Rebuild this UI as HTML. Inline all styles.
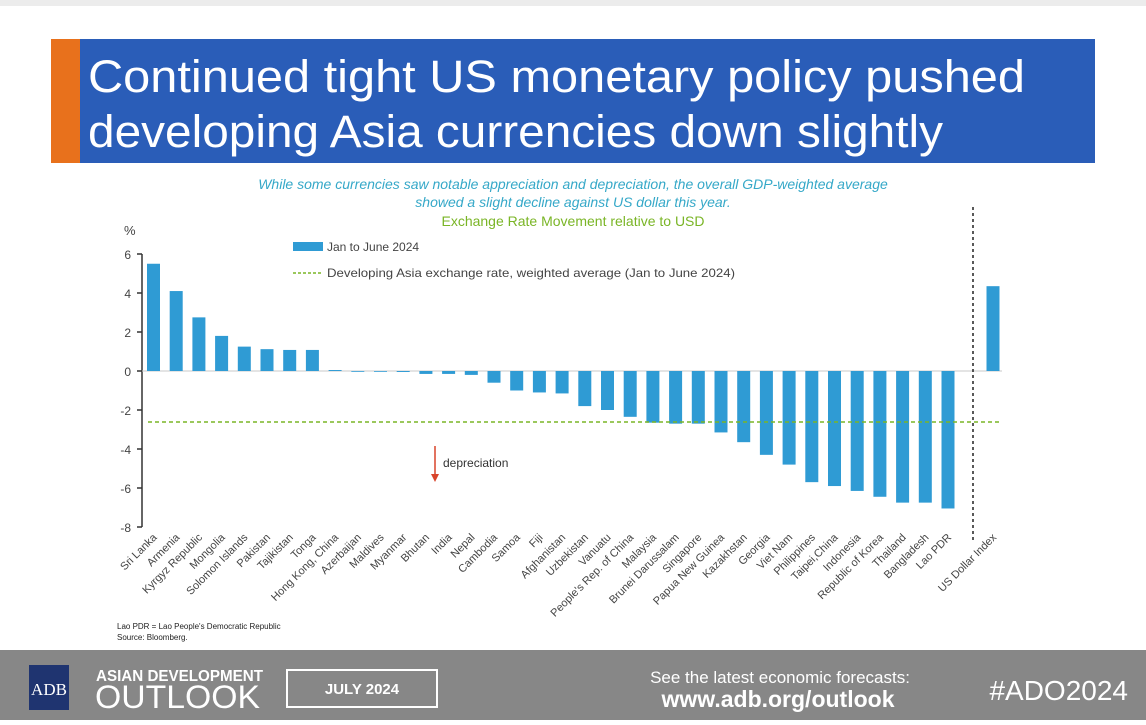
<!DOCTYPE html>
<html><head><meta charset="utf-8"><style>
body{margin:0;width:1146px;height:720px;overflow:hidden;background:#fff;font-family:"Liberation Sans","DejaVu Sans",sans-serif}
</style></head><body>
<svg width="1146" height="720" xmlns="http://www.w3.org/2000/svg" font-family="Liberation Sans, DejaVu Sans, sans-serif">
<rect x="0" y="0" width="1146" height="720" fill="#fff"/>
<rect x="0" y="0" width="1146" height="6" fill="#ececec"/>
<rect x="51" y="39" width="29" height="124" fill="#e8711c"/>
<rect x="80" y="39" width="1015" height="124" fill="#2a5db8"/>
<text x="88" y="92" font-size="45" fill="#fff" textLength="937" lengthAdjust="spacingAndGlyphs">Continued tight US monetary policy pushed</text>
<text x="88" y="147" font-size="45" fill="#fff" textLength="855" lengthAdjust="spacingAndGlyphs">developing Asia currencies down slightly</text>
<text x="573" y="189" font-size="14" font-style="italic" fill="#35a8c8" text-anchor="middle">While some currencies saw notable appreciation and depreciation, the overall GDP-weighted average</text>
<text x="573" y="207" font-size="14" font-style="italic" fill="#35a8c8" text-anchor="middle">showed a slight decline against US dollar this year.</text>
<text x="573" y="226" font-size="14" fill="#7ab526" text-anchor="middle">Exchange Rate Movement relative to USD</text>
<text x="124" y="235" font-size="13" fill="#444">%</text>
<g font-size="12" fill="#444" text-anchor="end">
<text x="131" y="259">6</text><text x="131" y="298">4</text><text x="131" y="337">2</text><text x="131" y="376">0</text>
<text x="131" y="415">-2</text><text x="131" y="454">-4</text><text x="131" y="493">-6</text><text x="131" y="532">-8</text>
</g>
<line x1="142" y1="254" x2="142" y2="527" stroke="#333" stroke-width="1.5"/>
<g stroke="#333" stroke-width="1.5">
<line x1="137" y1="254" x2="142" y2="254"/><line x1="137" y1="293" x2="142" y2="293"/><line x1="137" y1="332" x2="142" y2="332"/><line x1="137" y1="371" x2="142" y2="371"/><line x1="137" y1="410" x2="142" y2="410"/><line x1="137" y1="449" x2="142" y2="449"/><line x1="137" y1="488" x2="142" y2="488"/><line x1="137" y1="527" x2="142" y2="527"/>
</g>
<line x1="142" y1="371" x2="1002" y2="371" stroke="#c8c8c8" stroke-width="1"/>
<g id="bars" fill="#2f9bd4"></g>
<line x1="148" y1="422" x2="1000" y2="422" stroke="#7ab526" stroke-width="1.5" stroke-dasharray="4,3"/>
<line x1="973" y1="207" x2="973" y2="540" stroke="#222" stroke-width="1.5" stroke-dasharray="3,3"/>
<rect x="293" y="242" width="30" height="9" fill="#2f9bd4"/>
<text x="327" y="251" font-size="12" fill="#444">Jan to June 2024</text>
<line x1="293" y1="273" x2="323" y2="273" stroke="#7ab526" stroke-width="1.5" stroke-dasharray="3,2"/>
<text x="327" y="277" font-size="12" fill="#444" textLength="408" lengthAdjust="spacingAndGlyphs">Developing Asia exchange rate, weighted average (Jan to June 2024)</text>
<line x1="435" y1="446" x2="435" y2="476" stroke="#d9442a" stroke-width="1.5"/>
<path d="M431 474 L435 482 L439 474 Z" fill="#d9442a"/>
<text x="443" y="467" font-size="12" fill="#333">depreciation</text>
<g id="labels" font-size="11" fill="#444" text-anchor="end"></g>
<text x="117" y="629" font-size="8" fill="#222">Lao PDR = Lao People's Democratic Republic</text>
<text x="117" y="640" font-size="8" fill="#222">Source: Bloomberg.</text>
<rect x="0" y="650" width="1146" height="70" fill="#878787"/>
<rect x="29" y="665" width="40" height="45" fill="#1f3470"/>
<text x="49" y="695" font-size="17" fill="#fff" text-anchor="middle" font-family="Liberation Serif, serif">ADB</text>
<text x="96" y="681" font-size="16" font-weight="bold" fill="#fff" textLength="167" lengthAdjust="spacingAndGlyphs">ASIAN DEVELOPMENT</text>
<text x="95" y="708" font-size="32" fill="#fff" textLength="165" lengthAdjust="spacingAndGlyphs">OUTLOOK</text>
<rect x="287" y="670" width="150" height="37" fill="none" stroke="#fff" stroke-width="2"/>
<text x="362" y="694" font-size="15" font-weight="bold" fill="#fff" text-anchor="middle">JULY 2024</text>
<text x="780" y="683" font-size="17" fill="#fff" text-anchor="middle">See the latest economic forecasts:</text>
<text x="778" y="707" font-size="23" font-weight="bold" fill="#fff" text-anchor="middle">www.adb.org/outlook</text>
<text x="1128" y="700" font-size="28" fill="#fff" text-anchor="end">#ADO2024</text>
</svg>
<script>
var names=["Sri Lanka","Armenia","Kyrgyz Republic","Mongolia","Solomon Islands","Pakistan","Tajikistan","Tonga","Hong Kong, China","Azerbaijan","Maldives","Myanmar","Bhutan","India","Nepal","Cambodia","Samoa","Fiji","Afghanistan","Uzbekistan","Vanuatu","People's Rep. of China","Malaysia","Brunei Darussalam","Singapore","Papua New Guinea","Kazakhstan","Georgia","Viet Nam","Philippines","Taipei,China","Indonesia","Republic of Korea","Thailand","Bangladesh","Lao PDR"];
var vals=[5.5,4.1,2.75,1.8,1.25,1.12,1.08,1.08,0.05,0,0,-0.05,-0.15,-0.15,-0.2,-0.6,-1.0,-1.1,-1.15,-1.8,-2.0,-2.35,-2.65,-2.7,-2.7,-3.15,-3.65,-4.3,-4.8,-5.7,-5.9,-6.15,-6.45,-6.75,-6.75,-7.05];
var ns="http://www.w3.org/2000/svg",b=document.getElementById("bars"),l=document.getElementById("labels");
function add(c,v,n){var y0=371,h=v*19.5,r=document.createElementNS(ns,"rect");
r.setAttribute("x",c-6.5);r.setAttribute("width",13);r.setAttribute("y",h>0?y0-h:y0);r.setAttribute("height",Math.max(Math.abs(h),0.8));b.appendChild(r);
var t=document.createElementNS(ns,"text");t.setAttribute("transform","translate("+(c+4)+",538) rotate(-45)");t.textContent=n;l.appendChild(t);}
for(var i=0;i<names.length;i++)add(153.5+i*22.7,vals[i],names[i]);
add(993,4.35,"US Dollar Index");
</script>
</body></html>
